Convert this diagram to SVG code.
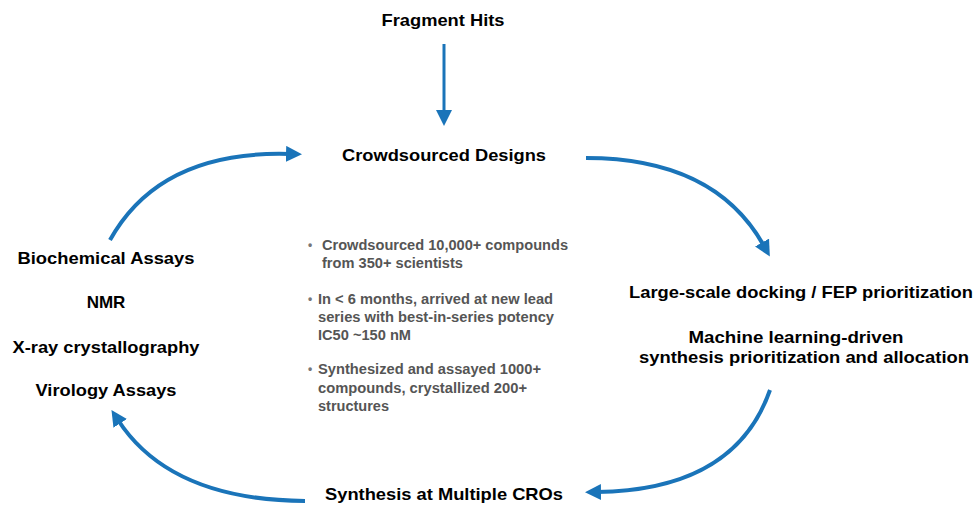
<svg xmlns="http://www.w3.org/2000/svg" width="976" height="505" viewBox="0 0 976 505">
<style>
.t{font-family:"Liberation Sans",Arial,sans-serif;font-weight:bold;font-size:17px;fill:#000}
.c{font-family:"Liberation Sans",Arial,sans-serif;font-weight:bold;font-size:17px;fill:#000}
.b{font-family:"Liberation Sans",Arial,sans-serif;font-weight:bold;font-size:14px;fill:#555}
.d{font-family:"Liberation Sans",Arial,sans-serif;font-weight:bold;font-size:12px;fill:#777}
.a{fill:none;stroke:#1a74b9;stroke-width:4}
</style>
<defs>
<marker id="h" markerUnits="userSpaceOnUse" markerWidth="20" markerHeight="20" refX="4" refY="8" orient="auto">
<path d="M0,0 L16,8 L0,16 Z" fill="#1a74b9"/>
</marker>
</defs>
<rect width="976" height="505" fill="#fff"/>
<g id="connectors">
<path class="a" d="M444 44 L444 114" marker-end="url(#h)" style="stroke-width:3"/>
<path class="a" d="M110 240 Q160 150 290 154" marker-end="url(#h)"/>
<path class="a" d="M586 158 Q715 158 764 246" marker-end="url(#h)"/>
<path class="a" d="M770 390 Q735 490 597 492" marker-end="url(#h)"/>
<path class="a" d="M305 501 Q170 500 118 420" marker-end="url(#h)"/>
</g>
<g id="fragment"><text class="c" x="443" y="26" text-anchor="middle" textLength="123" lengthAdjust="spacingAndGlyphs">Fragment Hits</text></g>
<g id="crowd"><text class="c" x="444" y="161" text-anchor="middle" textLength="204" lengthAdjust="spacingAndGlyphs">Crowdsourced Designs</text></g>
<g id="docking">
<text class="t" x="801" y="298" text-anchor="middle" textLength="344" lengthAdjust="spacingAndGlyphs">Large-scale docking / FEP prioritization</text>
<text class="t" x="796" y="343" text-anchor="middle" textLength="215" lengthAdjust="spacingAndGlyphs">Machine learning-driven</text>
<text class="t" x="804" y="363" text-anchor="middle" textLength="330" lengthAdjust="spacingAndGlyphs">synthesis prioritization and allocation</text>
</g>
<g id="synthesis"><text class="c" x="444" y="500" text-anchor="middle" textLength="238" lengthAdjust="spacingAndGlyphs">Synthesis at Multiple CROs</text></g>
<g id="assays">
<text class="t" x="106" y="264" text-anchor="middle" textLength="177" lengthAdjust="spacingAndGlyphs">Biochemical Assays</text>
<text class="t" x="106" y="308" text-anchor="middle">NMR</text>
<text class="t" x="106" y="353" text-anchor="middle" textLength="187" lengthAdjust="spacingAndGlyphs">X-ray crystallography</text>
<text class="t" x="106" y="396" text-anchor="middle" textLength="141" lengthAdjust="spacingAndGlyphs">Virology Assays</text>
</g>
<g id="summary">
<text class="d" x="308" y="249">•</text>
<text class="b" x="322" y="250" textLength="246" lengthAdjust="spacingAndGlyphs">Crowdsourced 10,000+ compounds</text>
<text class="b" x="322" y="268" textLength="141" lengthAdjust="spacingAndGlyphs">from 350+ scientists</text>
<text class="d" x="308" y="303">•</text>
<text class="b" x="318" y="304" textLength="235" lengthAdjust="spacingAndGlyphs">In &lt; 6 months, arrived at new lead</text>
<text class="b" x="318" y="322" textLength="236" lengthAdjust="spacingAndGlyphs">series with best-in-series potency</text>
<text class="b" x="318" y="340" textLength="93" lengthAdjust="spacingAndGlyphs">IC50 ~150 nM</text>
<text class="d" x="308" y="373">•</text>
<text class="b" x="318" y="374" textLength="223" lengthAdjust="spacingAndGlyphs">Synthesized and assayed 1000+</text>
<text class="b" x="318" y="393" textLength="209" lengthAdjust="spacingAndGlyphs">compounds, crystallized 200+</text>
<text class="b" x="318" y="411" textLength="71" lengthAdjust="spacingAndGlyphs">structures</text>
</g>
</svg>
